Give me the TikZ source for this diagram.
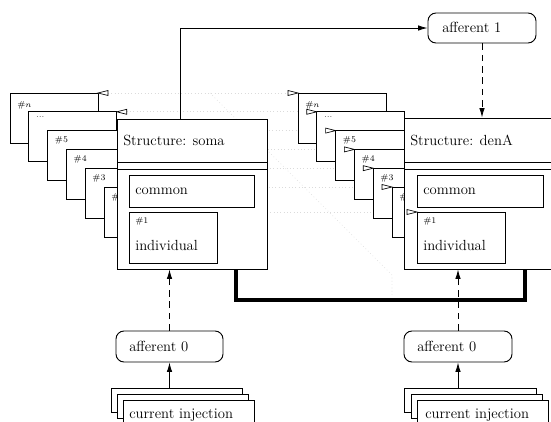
\documentclass[tikz,border=0pt]{standalone}
\usetikzlibrary{arrows.meta,fit}

\tikzset{
  card/.style={draw,fill=white,line width=.6pt},
  unit/.style={draw,fill=white,line width=.7pt,inner sep=0pt},
  syn/.style={unit,rounded corners=6pt},
  link/.style={dotted,black!14,line width=.5pt},
  fwd/.style={-{Latex[length=7pt,width=4pt]},line width=.6pt},
  ghost/.style={dash pattern=on 5pt off 3.5pt},
  tag/.style={font=\fontsize{6.5}{7}\selectfont,anchor=base west,inner sep=0pt},
  lbl/.style={anchor=base west,inner sep=0pt},
  pinL/.pic={\draw[fill=white,line width=.5pt] (0,0) -- (10,-2.5) -- (10,2.5) -- cycle;},
  pinR/.pic={\draw[fill=white,line width=.5pt] (0,0) -- (-10,-2.5) -- (-10,2.5) -- cycle;}
}

\begin{document}
\begin{tikzpicture}[x=.75pt,y=-.75pt,font=\fontsize{11}{13}\selectfont]
  \useasboundingbox (0,0) rectangle (551,422);

  % links between matching compartments
  \foreach \i in {0,...,5}
    \draw[link] ({98+18.8*\i},{93+18.8*\i}) -- ({298+18.8*\i},{93+18.8*\i});
  \draw[link] (217,212) -- (417,212);
  \draw[link] (210,93) -- (392,275) -- (392,297);

  % soma compartments
  \foreach \i/\t/\b in {0/{\#$n$}/14,1/{...}/6,2/{\#5}/12,3/{\#4}/12,4/{\#3}/12,5/{\#2}/12} {
    \draw[card] ({10+18.8*\i},{93+18.8*\i}) rectangle ++(88,50);
    \node[tag] at ({17+18.8*\i},{93+\b+18.8*\i}) {\t};
    \pic at ({98+18.8*\i},{93+18.8*\i}) {pinL};
  }
  \node[unit,fit={(117,119)(267,269)}] (soma) {};
  \draw[line width=.7pt] (117,162) -- (267,162) (117,169) -- (267,169);
  \node[lbl] at (123,145) {Structure: soma};
  \node[unit,fit={(129,175)(254,207)}] (somaC) {};
  \node[lbl] at (135,194) {common};
  \node[unit,fit={(129,212)(217,263)}] (somaI) {};
  \node[tag] at (135,223) {\#1};
  \node[lbl] at (135,250) {individual};

  % dendrite compartments
  \foreach \i/\t/\b in {0/{\#$n$}/14,1/{...}/6,2/{\#5}/12,3/{\#4}/12,4/{\#3}/12,5/{\#2}/12} {
    \draw[card] ({298+18.8*\i},{93+18.8*\i}) rectangle ++(88,50);
    \node[tag] at ({305+18.8*\i},{93+\b+18.8*\i}) {\t};
    \pic at ({298+18.8*\i},{93+18.8*\i}) {pinR};
  }
  \node[unit,fit={(404,118)(556,269)}] (denA) {};
  \draw[line width=.7pt] (404,162) -- (556,162) (404,169) -- (556,169);
  \node[lbl] at (410,145) {Structure: denA};
  \node[unit,fit={(417,175)(543,207)}] (denAC) {};
  \node[lbl] at (423,194) {common};
  \node[unit,fit={(417,212)(505,263)}] (denAI) {};
  \pic at (417,212) {pinR};
  \node[tag] at (423,223) {\#1};
  \node[lbl] at (423,250) {individual};

  % synapses
  \node[syn,fit={(428,13)(536,43)}] (aff1) {};
  \node[lbl] at (442,32) {afferent 1};
  \node[syn,fit={(116,331)(223,362)}] (affL) {};
  \node[lbl] at (129,351) {afferent 0};
  \node[syn,fit={(404,331)(512,362)}] (affR) {};
  \node[lbl] at (417,351) {afferent 0};

  % current injection stacks
  \node[card,inner sep=0pt,fit={(111,388)(242,412)}] (injLc) {};
  \node[card,inner sep=0pt,fit={(117,394)(248,418)}] (injLb) {};
  \node[card,inner sep=0pt,fit={(123,400)(254,432)}] (injL) {};
  \node[lbl] at (129,418) {current injection};
  \node[card,inner sep=0pt,fit={(404,388)(536,412)}] (injRc) {};
  \node[card,inner sep=0pt,fit={(411,394)(542,418)}] (injRb) {};
  \node[card,inner sep=0pt,fit={(417,400)(548,432)}] (injR) {};
  \node[lbl] at (425,418) {current injection};

  % connections
  \draw[fwd] (180,0 |- soma.north) |- (aff1.west);
  \draw[fwd,ghost] (aff1) -- (aff1 |- denA.north);
  \draw[fwd] (affL |- injLc.north) -- (affL);
  \draw[fwd,ghost] (affL) -- (affL |- soma.south);
  \draw[fwd] (affR |- injRc.north) -- (affR);
  \draw[fwd,ghost] (affR) -- (affR |- denA.south);
  \draw[line width=3pt] (236,0 |- soma.south) -- (236,300) -| (525,0 |- denA.south);
\end{tikzpicture}
\end{document}
